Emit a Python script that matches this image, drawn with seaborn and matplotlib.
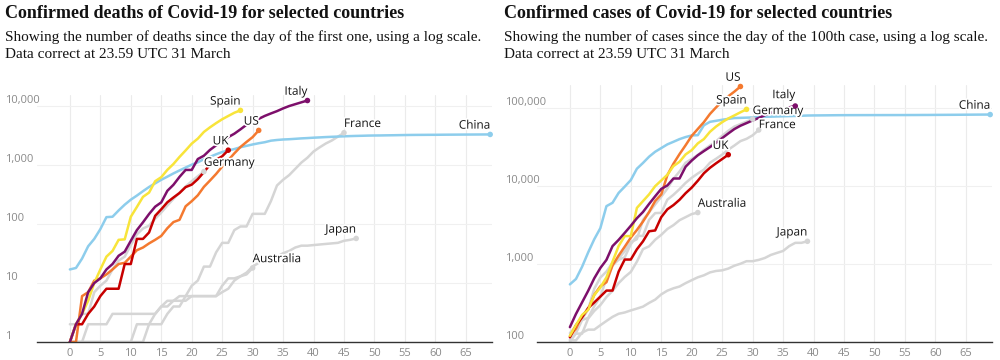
import numpy as np
import pandas as pd
import matplotlib
matplotlib.use("Agg")
import matplotlib.pyplot as plt
import matplotlib.patheffects as pe
import seaborn as sns

# Deaths, counted from the day of the first death
deaths_china = [17, 18, 26, 42, 56, 82, 131, 133, 170, 213, 259, 304, 361, 425, 490, 563, 636, 722, 811, 908,
                1016, 1113, 1259, 1380, 1523, 1665, 1770, 1868, 2004, 2118, 2236, 2345, 2442, 2592, 2663, 2715,
                2744, 2788, 2835, 2870, 2912, 2946, 2984, 3015, 3045, 3073, 3100, 3123, 3140, 3162, 3173, 3180,
                3194, 3204, 3218, 3231, 3242, 3249, 3253, 3259, 3261, 3270, 3277, 3281, 3287, 3292, 3295, 3300,
                3304, 3308]
deaths_italy = [1, 2, 3, 7, 10, 12, 17, 21, 29, 34, 52, 79, 107, 148, 197, 233, 366, 463, 631, 827, 827, 1266,
                1441, 1809, 2158, 2503, 2978, 3405, 4032, 4825, 5476, 6077, 6820, 7503, 8215, 9134, 10023, 10779,
                11591, 12428]
deaths_spain = [1, 2, 3, 5, 10, 17, 28, 35, 54, 55, 133, 195, 289, 342, 533, 623, 830, 1043, 1375, 1772, 2311,
                2808, 3647, 4365, 5138, 5982, 6803, 7716, 8464]
deaths_us = [1, 1, 6, 7, 11, 12, 14, 17, 21, 22, 28, 36, 40, 47, 54, 63, 85, 108, 118, 200, 244, 307, 427, 547,
             706, 942, 1209, 1581, 2026, 2467, 2978, 3873]
deaths_uk = [1, 2, 2, 3, 4, 6, 8, 8, 8, 21, 21, 56, 56, 72, 138, 178, 234, 282, 336, 423, 466, 578, 759, 1019,
             1228, 1408, 1789]
deaths_germany = [2, 2, 3, 3, 7, 9, 11, 17, 24, 28, 44, 67, 84, 94, 123, 157, 206, 267, 342, 433, 533, 645, 775]
deaths_france = [1, 1, 1, 1, 1, 1, 1, 1, 1, 1, 1, 2, 2, 2, 2, 2, 3, 4, 4, 6, 9, 11, 19, 19, 33, 48, 48, 79, 91,
                 91, 149, 149, 149, 244, 451, 563, 676, 862, 1102, 1333, 1698, 1997, 2317, 2611, 3030, 3532]
deaths_japan = [1, 1, 1, 2, 2, 2, 2, 3, 3, 3, 3, 3, 3, 3, 3, 4, 5, 5, 6, 6, 6, 6, 6, 6, 6, 9, 12, 12, 13, 15,
                19, 22, 24, 26, 28, 32, 35, 40, 43, 43, 44, 45, 46, 47, 48, 52, 54, 57]
deaths_australia = [1, 1, 1, 1, 1, 1, 1, 1, 1, 1, 1, 1, 1, 2, 3, 4, 4, 5, 5, 5, 6, 6, 6, 6, 6, 7, 8, 11, 13,
                    14, 18]

# Cases, counted from the day of the 100th case
cases_china = [548, 643, 920, 1406, 2075, 2877, 5509, 6087, 8141, 9802, 11891, 16630, 19716, 23707, 27440,
               30587, 34110, 36814, 39829, 42354, 44386, 44759, 59895, 66358, 68413, 70513, 72434, 74211, 74619,
               75077, 75550, 77001, 77022, 77241, 77754, 78166, 78600, 78928, 79356, 79932, 80136, 80261, 80386,
               80537, 80690, 80770, 80823, 80860, 80887, 80921, 80932, 80945, 80977, 81003, 81033, 81058, 81102,
               81156, 81250, 81305, 81435, 81498, 81591, 81661, 81782, 81897, 81999, 82122, 82198, 82279]
cases_italy = [155, 229, 322, 453, 655, 888, 1128, 1694, 2036, 2502, 3089, 3858, 4636, 5883, 7375, 9172, 10149,
               12462, 12462, 17660, 21157, 24747, 27980, 31506, 35713, 41035, 47021, 53578, 59138, 63927, 69176,
               74386, 80589, 86498, 92472, 97689, 101739, 105792]
cases_spain = [120, 165, 222, 259, 400, 500, 673, 1073, 1695, 2277, 2277, 5232, 6391, 7798, 9942, 11748, 13910,
               17963, 20410, 25374, 28768, 35136, 39885, 49515, 57786, 65719, 73235, 80110, 87956, 95923]
cases_us = [118, 149, 217, 262, 402, 518, 583, 959, 1281, 1663, 2179, 2727, 3499, 4632, 6421, 7783, 13747,
            19273, 25600, 33276, 43847, 53740, 65778, 83836, 101657, 121478, 140886, 161807, 188172]
cases_germany = [130, 159, 196, 262, 482, 670, 799, 1040, 1176, 1457, 1908, 2078, 3675, 4585, 5795, 7272, 9257,
                 12327, 15320, 19848, 22213, 24873, 29056, 32986, 37323, 43938, 50871, 57695, 62095, 66885, 71808]
cases_france = [100, 130, 191, 204, 288, 380, 656, 957, 1134, 1217, 1792, 2290, 2290, 3678, 4487, 4523, 6668,
                7699, 9105, 10947, 12726, 14431, 16176, 19856, 22304, 25233, 29155, 32964, 37575, 40174, 44550,
                52128]
cases_uk = [115, 164, 207, 273, 321, 382, 456, 456, 798, 1140, 1140, 1543, 1950, 2626, 2689, 3983, 5018, 5683,
            6650, 8077, 9529, 11658, 14543, 17089, 19522, 22141, 25150]
cases_australia = [107, 128, 128, 200, 250, 297, 377, 452, 568, 681, 791, 1071, 1549, 1682, 2044, 2364, 2810,
                   3143, 3640, 3984, 4361, 4559]
cases_japan = [105, 105, 132, 144, 144, 164, 186, 210, 230, 239, 254, 268, 284, 317, 349, 408, 455, 488, 514,
               568, 620, 675, 716, 780, 814, 829, 873, 950, 1007, 1086, 1086, 1128, 1193, 1307, 1387, 1468, 1693,
               1866, 1866, 1953]

x_ticks = [0, 5, 10, 15, 20, 25, 30, 35, 40, 45, 50, 55, 60, 65]
deaths_yticks = [1, 10, 100, 1000, 10000]
cases_yticks = [100, 1000, 10000, 100000]

grey = "#d5d5d5"
colours = {
    "Germany": grey, "France": grey, "Japan": grey, "Australia": grey,
    "China": "#8dcdec", "US": "#f4792f", "UK": "#c70000",
    "Spain": "#f8e43a", "Italy": "#7d0f6b",
}
draw_order = ["Germany", "France", "Japan", "Australia", "China", "US", "UK", "Spain", "Italy"]

deaths = {"China": deaths_china, "Italy": deaths_italy, "Spain": deaths_spain, "US": deaths_us,
          "UK": deaths_uk, "Germany": deaths_germany, "France": deaths_france, "Japan": deaths_japan,
          "Australia": deaths_australia}
cases = {"China": cases_china, "Italy": cases_italy, "Spain": cases_spain, "US": cases_us, "UK": cases_uk,
         "Germany": cases_germany, "France": cases_france, "Japan": cases_japan, "Australia": cases_australia}

# which side of the end point each label sits, and a small nudge up (points)
deaths_label_ha = {"China": "right", "Italy": "right", "Spain": "right", "US": "right", "UK": "right",
                   "Germany": "left", "France": "left", "Japan": "right", "Australia": "left"}
cases_label_ha = {"China": "right", "Italy": "right", "Spain": "right", "US": "right", "UK": "right",
                  "Germany": "left", "France": "left", "Japan": "right", "Australia": "left"}
deaths_label_dy = {}
cases_label_dy = {"Germany": 1.5, "Italy": 3.5, "France": -0.8}


def to_long(series):
    rows = []
    for name, vals in series.items():
        for day, v in enumerate(vals):
            rows.append({"country": name, "day": day, "value": v})
    return pd.DataFrame(rows)


sns.set_style("white")
plt.rcParams["font.family"] = ["Open Sans", "DejaVu Sans"]

fig = plt.figure(figsize=(10, 3.6), dpi=100)


def draw(ax, series, label_ha, label_dy, yticks, ylim):
    df = to_long(series)
    ax.set_yscale("log")
    sns.lineplot(data=df, x="day", y="value", hue="country", hue_order=draw_order, palette=colours,
                 linewidth=1.8, legend=False, ax=ax, estimator=None, sort=False)
    ends = df.groupby("country").tail(1)
    # end dots sit above the label halos
    sns.scatterplot(data=ends, x="day", y="value", hue="country", hue_order=draw_order, palette=colours,
                    s=16, linewidth=0, legend=False, ax=ax, zorder=7, clip_on=False)
    for _, r in ends.iterrows():
        ax.annotate(r["country"], (r["day"], r["value"]), xytext=(0, label_dy.get(r["country"], 2)),
                    textcoords="offset points", annotation_clip=False,
                    ha=label_ha[r["country"]], va="bottom", fontsize=8.5, color="#121212", zorder=6,
                    path_effects=[pe.withStroke(linewidth=2.5, foreground="white")])

    ax.set_xlim(-5.4, 69.3)
    ax.set_ylim(*ylim)
    ax.set_xticks(x_ticks)
    ax.set_yticks(yticks)
    ax.set_yticklabels([f"{t:,}" for t in yticks])
    ax.minorticks_off()
    ax.set_xlabel("")
    ax.set_ylabel("")
    ax.grid(axis="x", color="#ebebeb", linewidth=0.8)
    ax.grid(axis="y", color="#f0f0f0", linewidth=0.8)
    ax.set_axisbelow(True)
    for s in ["top", "right", "left"]:
        ax.spines[s].set_visible(False)
    ax.spines["bottom"].set_color("#333333")
    ax.spines["bottom"].set_linewidth(1)
    ax.tick_params(axis="x", length=0, pad=4, labelsize=8, labelcolor="#8a8a8a")
    ax.tick_params(axis="y", length=0, pad=23, labelsize=8, labelcolor="#8a8a8a")
    for lab in ax.get_yticklabels():
        lab.set_horizontalalignment("left")
        lab.set_verticalalignment("bottom")


ax1 = fig.add_axes([0.037, 0.05, 0.455, 0.686])
draw(ax1, deaths, deaths_label_ha, deaths_label_dy, deaths_yticks, (1, 15400))
ax2 = fig.add_axes([0.537, 0.05, 0.455, 0.714])
draw(ax2, cases, cases_label_ha, cases_label_dy, cases_yticks, (100, 197000))

title_font = {"family": ["Liberation Serif", "DejaVu Serif"], "weight": "bold", "size": 13, "color": "#121212"}
sub_font = {"family": ["Liberation Serif", "DejaVu Serif"], "size": 11, "color": "#121212"}

fig.text(0.005, 0.962, "Confirmed deaths of Covid-19 for selected countries", va="center", **title_font)
fig.text(0.005, 0.897, "Showing the number of deaths since the day of the first one, using a log scale.",
         va="center", **sub_font)
fig.text(0.005, 0.850, "Data correct at 23.59 UTC 31 March", va="center", **sub_font)

fig.text(0.504, 0.962, "Confirmed cases of Covid-19 for selected countries", va="center", **title_font)
fig.text(0.504, 0.897, "Showing the number of cases since the day of the 100th case, using a log scale.",
         va="center", **sub_font)
fig.text(0.504, 0.850, "Data correct at 23.59 UTC 31 March", va="center", **sub_font)

fig.savefig("out.png", dpi=100)
